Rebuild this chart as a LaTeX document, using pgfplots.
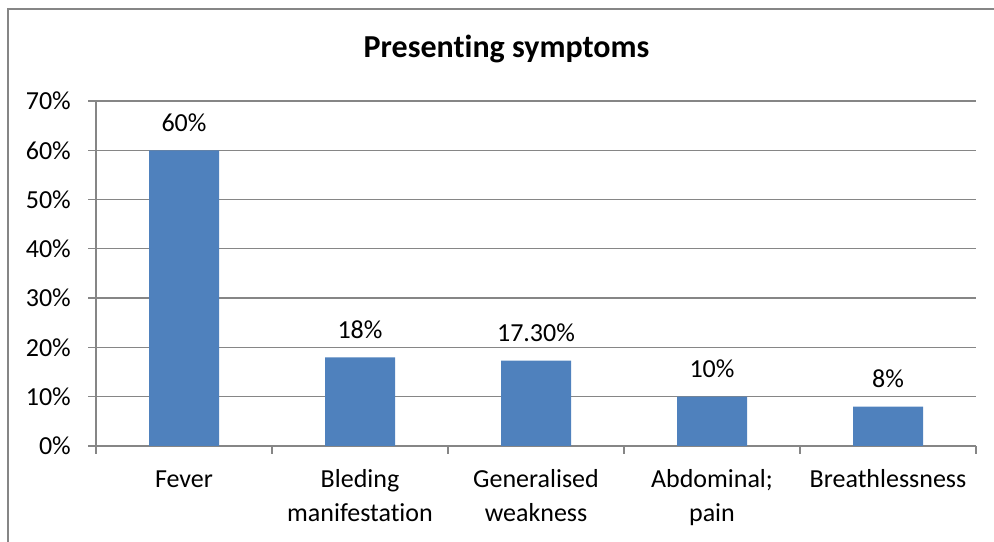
\documentclass[border=0pt]{standalone}
\usepackage{pgfplots}
\pgfplotsset{compat=1.18}
\usepackage{fontspec}
\setmainfont{Carlito}[Ligatures=NoCommon]
\definecolor{barblue}{HTML}{4F81BD}
\definecolor{gridgray}{HTML}{868686}
\newcommand{\twol}[2]{{\setlength{\tabcolsep}{0pt}\begin{tabular}[t]{c}#1\\#2\end{tabular}}}
\begin{document}
\begin{tikzpicture}[x=1bp,y=1bp]
\useasboundingbox (0,0) rectangle (994,542);
\draw[gridgray, line width=1.3bp] (8,0) -- (8,533) -- (994,533);
\node[anchor=base, inner sep=0pt, font=\fontsize{32bp}{38bp}\selectfont\bfseries] at (506.5,484) {Presenting symptoms};
\begin{axis}[
  at={(96bp,96bp)}, anchor=south west,
  scale only axis, width=880bp, height=345bp,
  xmin=-0.5, xmax=4.5, ymin=0, ymax=70,
  axis lines*=left,
  axis line style={gridgray, line width=1.3bp},
  ymajorgrids, grid style={gridgray, line width=1.3bp},
  ytick={0,10,...,70},
  yticklabels={0\%,10\%,20\%,30\%,40\%,50\%,60\%,70\%},
  xtick={-0.5,0.5,1.5,2.5,3.5,4.5}, xticklabels={},
  extra x ticks={0,1,2,3,4},
  extra x tick labels={Fever,{\twol{Bleding}{manifestation}},{\twol{Generalised}{weakness}},{\twol{Abdominal;}{pain}},Breathlessness},
  extra x tick style={major tick length=0pt, grid=none,
     xticklabel style={anchor=base, inner sep=0pt, yshift=-42bp}},
  tick align=outside, major tick length=8bp,
  tick style={gridgray, line width=1.3bp},
  tick label style={font=\fontsize{26bp}{33.3bp}\selectfont, text=black},
  yticklabel style={anchor=east, inner sep=0pt, xshift=-17bp},
  nodes near coords style={font=\fontsize{26bp}{33.3bp}\selectfont, text=black, anchor=base, yshift=19bp, inner sep=0pt},
  clip=false,
]
\addplot[ybar, fill=barblue, draw=none, bar width=70bp, nodes near coords, point meta=explicit symbolic]
  table[x=x, y=y, meta=label] {
x y label
0 60 60\%
1 18 18\%
2 17.3 17.30\%
3 10 10\%
4 8 8\%
};
\end{axis}
\end{tikzpicture}
\end{document}
